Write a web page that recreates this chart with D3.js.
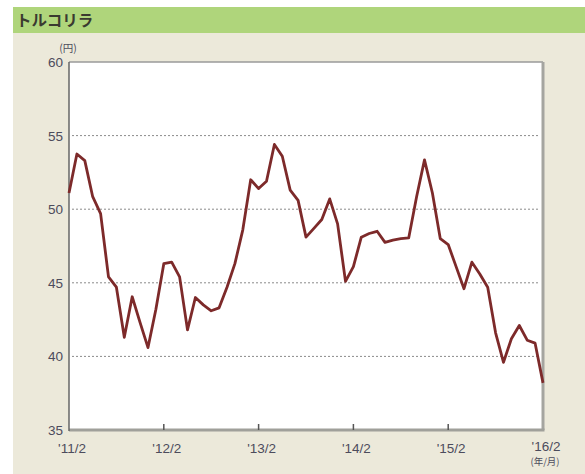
<!DOCTYPE html>
<html><head><meta charset="utf-8">
<script src="https://cdn.jsdelivr.net/npm/d3@7"></script>
<style>body{margin:0;background:#fff;} svg{display:block;}</style>
</head><body>
<script>
const title = "トルコリラ";
const unitLabel = "(円)";
const xUnitLabel = "(年/月)";
const yTicks = [35, 40, 45, 50, 55, 60];
const xTickLabels = ["'11/2", "'12/2", "'13/2", "'14/2", "'15/2", "'16/2"];
const xTickMonths = [0, 12, 24, 36, 48, 60];
const values = [51.1, 53.75, 53.3, 50.85, 49.7, 45.4, 44.7, 41.3, 44.05, 42.3,
  40.6, 43.2, 46.3, 46.4, 45.4, 41.8, 44.0, 43.5, 43.1, 43.3,
  44.7, 46.3, 48.6, 52.0, 51.4, 51.9, 54.4, 53.6, 51.3, 50.6,
  48.1, 48.7, 49.3, 50.7, 49.0, 45.1, 46.1, 48.1, 48.35, 48.5,
  47.75, 47.9, 48.0, 48.05, 50.85, 53.35, 51.1, 48.0, 47.6, 46.1,
  44.6, 46.4, 45.6, 44.7, 41.6, 39.6, 41.2, 42.1, 41.1, 40.9, 38.2];

const W = 585, H = 474;
const svg = d3.select("body").append("svg").attr("width", W).attr("height", H);
const font = "'Liberation Sans',Arial,sans-serif";
const txtColor = "#4c4c5c";

svg.append("rect").attr("x", 13).attr("y", 33).attr("width", W - 13).attr("height", H - 33).attr("fill", "#ece9da");
svg.append("rect").attr("x", 13).attr("y", 7).attr("width", W - 13).attr("height", 26).attr("fill", "#afd57b");
svg.append("text").attr("x", 16).attr("y", 26).text(title)
  .attr("font-family", "'Noto Sans CJK JP',sans-serif").attr("font-weight", "bold")
  .attr("font-size", 15.5).attr("fill", "#3a3a30");

const L = 69, R = 543, T = 62, B = 430;
const x = d3.scaleLinear().domain([0, 60]).range([L, R]);
const y = d3.scaleLinear().domain([35, 60]).range([B, T]);

svg.append("rect").attr("x", L).attr("y", T).attr("width", R - L).attr("height", B - T).attr("fill", "#fff");

// grid
svg.append("g").selectAll("line").data(yTicks.filter(d => d > 35 && d < 60)).join("line")
  .attr("x1", L + 3).attr("x2", R - 3).attr("y1", d => y(d)).attr("y2", d => y(d))
  .attr("stroke", "#8a8a8a").attr("stroke-width", 1).attr("stroke-dasharray", "2,2");

// frame
svg.append("line").attr("x1", L).attr("x2", R).attr("y1", T).attr("y2", T).attr("stroke", "#9a9a9a").attr("stroke-width", 1.5);
svg.append("line").attr("x1", R).attr("x2", R).attr("y1", T).attr("y2", B).attr("stroke", "#a5a5a0").attr("stroke-width", 3);
svg.append("line").attr("x1", L).attr("x2", R + 1.5).attr("y1", B).attr("y2", B).attr("stroke", "#a0a09a").attr("stroke-width", 3);
svg.append("line").attr("x1", L).attr("x2", L).attr("y1", T).attr("y2", B + 1).attr("stroke", "#666").attr("stroke-width", 1.5);

// x ticks
svg.append("g").selectAll("line").data(xTickMonths.slice(1, -1)).join("line")
  .attr("x1", d => x(d)).attr("x2", d => x(d)).attr("y1", B - 6).attr("y2", B)
  .attr("stroke", "#555").attr("stroke-width", 1.5);

// y labels
svg.append("g").selectAll("text").data(yTicks).join("text")
  .attr("x", 63).attr("y", d => y(d) + 5).attr("text-anchor", "end")
  .attr("font-family", font).attr("font-size", 13.5).attr("fill", txtColor).text(d => d);
svg.append("text").attr("x", 68).attr("y", 52).attr("text-anchor", "middle")
  .attr("font-family", "'Noto Sans CJK JP',sans-serif").attr("font-size", 10.5).attr("fill", txtColor).text(unitLabel);

// x labels
svg.append("g").selectAll("text").data(xTickLabels).join("text")
  .attr("x", (d, i) => x(xTickMonths[i]) + 3).attr("y", (d, i) => i === 5 ? 451 : 453).attr("text-anchor", "middle")
  .attr("font-family", font).attr("font-size", 13.5).attr("fill", txtColor).text(d => d);
svg.append("text").attr("x", x(60) + 2).attr("y", 465).attr("text-anchor", "middle")
  .attr("font-family", "'Noto Sans CJK JP',sans-serif").attr("font-size", 9.5).attr("fill", txtColor).text(xUnitLabel);

// line
const line = d3.line().x((d, i) => x(i)).y(d => y(d));
svg.append("path").datum(values).attr("d", line).attr("fill", "none")
  .attr("stroke", "#7d2a2a").attr("stroke-width", 2.8).attr("stroke-linejoin", "round");
</script>
</body></html>
